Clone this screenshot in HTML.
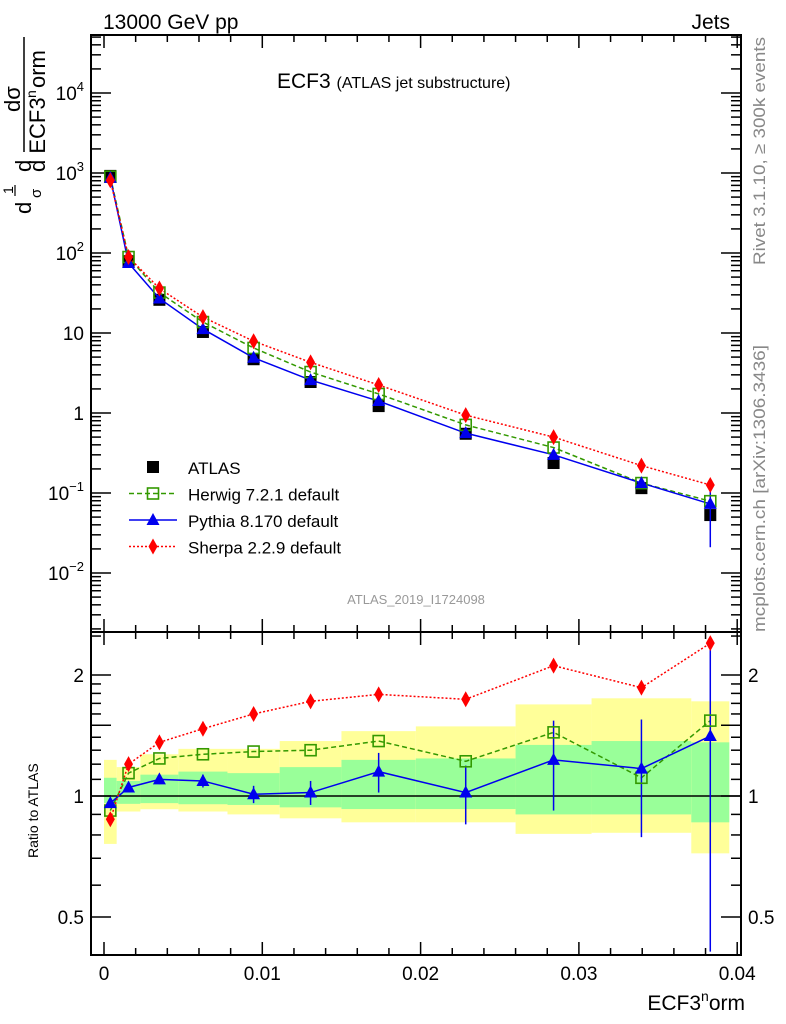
<!DOCTYPE html>
<html><head><meta charset="utf-8"><style>
body{margin:0;background:#fff;}
svg{display:block;font-family:"Liberation Sans",sans-serif;}
</style></head><body>
<svg id="c" width="786" height="1024" xmlns="http://www.w3.org/2000/svg">
<text x="103" y="29" font-size="21">13000 GeV pp</text>
<text x="730" y="29" font-size="21" text-anchor="end">Jets</text>
<text x="277" y="88" font-size="21">ECF3 <tspan font-size="16">(ATLAS jet substructure)</tspan></text>
<g font-size="22">
<text transform="translate(31,214) rotate(-90)">d</text>
<text transform="translate(13,194) rotate(-90)" font-size="14">1</text>
<line x1="15" y1="196" x2="15" y2="185" stroke="#000" stroke-width="1.2"/>
<text transform="translate(41,198) rotate(-90)" font-size="15">σ</text>
<text transform="translate(31,172) rotate(-90)">d</text>
<text transform="translate(20,112) rotate(-90)">dσ</text>
<line x1="24" y1="152" x2="24" y2="37" stroke="#000" stroke-width="1.5"/>
<text transform="translate(45,172) rotate(-90)">d ECF3</text>
<text transform="translate(36,98) rotate(-90)" font-size="14">n</text>
<text transform="translate(45,88) rotate(-90)">orm</text>
</g>
<text transform="translate(765,265) rotate(-90)" font-size="17" textLength="228" lengthAdjust="spacingAndGlyphs" fill="#888">Rivet 3.1.10, ≥ 300k events</text>
<text transform="translate(765,632) rotate(-90)" font-size="17" textLength="287" lengthAdjust="spacingAndGlyphs" fill="#888">mcplots.cern.ch [arXiv:1306.3436]</text>
<text x="416" y="604" font-size="13" fill="#999" text-anchor="middle">ATLAS_2019_I1724098</text>
<text transform="translate(38,858) rotate(-90)" font-size="14">Ratio to ATLAS</text>
<text x="745" y="1010" font-size="21" text-anchor="end">ECF3<tspan font-size="14" dy="-9">n</tspan><tspan dy="9">orm</tspan></text>
<g id="plot"></g>
</svg>
<script>
const edges=[0,0.0008,0.0023,0.0047,0.0078,0.0111,0.015,0.0197,0.026,0.0308,0.0371,0.0395];
const xs=[0.0004,0.00155,0.0035,0.00625,0.00945,0.01305,0.01735,0.02285,0.0284,0.03395,0.0383];
const atlas=[920,79,26,10.3,4.7,2.44,1.22,0.55,0.237,0.115,0.053];
const herwig=[900,89,32,13.7,6.5,3.25,1.73,0.71,0.37,0.133,0.079];
const pythia=[870,75,27,11.2,4.9,2.58,1.41,0.56,0.30,0.133,0.073];
const sherpa=[810,89,36,15.8,7.9,4.3,2.24,0.94,0.50,0.22,0.126];
const rHerwig=[0.92,1.14,1.24,1.27,1.29,1.30,1.37,1.22,1.44,1.11,1.54];
const rPythia=[0.96,1.05,1.10,1.09,1.01,1.02,1.15,1.02,1.23,1.17,1.41];
const rSherpa=[0.875,1.20,1.36,1.47,1.60,1.72,1.79,1.74,2.11,1.86,2.40];
const rPyErr=[0.02,0.02,0.03,0.04,0.05,0.07,0.13,0.17,0.31,0.38,1.0];
const yelHi=[1.23,1.18,1.27,1.31,1.31,1.37,1.45,1.49,1.69,1.75,1.72];
const yelLo=[0.76,0.915,0.927,0.915,0.90,0.88,0.86,0.86,0.805,0.81,0.72];
const grnHi=[1.11,1.09,1.13,1.15,1.14,1.18,1.23,1.24,1.34,1.37,1.36];
const grnLo=[0.96,0.956,0.96,0.954,0.95,0.937,0.928,0.928,0.90,0.90,0.86];
const xTicks=[0,0.01,0.02,0.03,0.04];
const xTickLabels=["0","0.01","0.02","0.03","0.04"];
const yDecades=[-2,-1,0,1,2,3,4];
const yLabels=["10<tspan font-size='13' dy='-9'>−2</tspan>","10<tspan font-size='13' dy='-9'>−1</tspan>","1","10","10<tspan font-size='13' dy='-9'>2</tspan>","10<tspan font-size='13' dy='-9'>3</tspan>","10<tspan font-size='13' dy='-9'>4</tspan>"];
const rTicks=[0.5,1,2];
const rTickLabels=["0.5","1","2"];

const L=91,R=741,T=35,M=632,B=955;
const X=v=>104+v*15830;
const Y=v=>413-80*Math.log10(v);
const RY=v=>796-121*Math.log2(v);
const NS="http://www.w3.org/2000/svg";
const g=document.getElementById('plot');
function el(tag,attrs,parent){const e=document.createElementNS(NS,tag);for(const k in attrs)e.setAttribute(k,attrs[k]);(parent||g).appendChild(e);return e;}

for(let i=0;i<xs.length;i++){
 const y=el('rect',{x:X(edges[i]),y:RY(yelHi[i]),width:X(edges[i+1])-X(edges[i]),height:RY(yelLo[i])-RY(yelHi[i]),fill:'#ffff99'});
 
 
 const gr=el('rect',{x:X(edges[i]),y:RY(grnHi[i]),width:X(edges[i+1])-X(edges[i]),height:RY(grnLo[i])-RY(grnHi[i]),fill:'#99ff99'});
 
 
}
const one=el('line',{x1:L,x2:R,y1:RY(1),y2:RY(1),stroke:'#000','stroke-width':1.5});



const f1=el('rect',{x:L,y:T,width:R-L,height:M-T,fill:'none',stroke:'#000','stroke-width':2});


const f2=el('rect',{x:L,y:M,width:R-L,height:B-M,fill:'none',stroke:'#000','stroke-width':2});



for(let v=0;v<=0.0405;v+=0.002){
 const major=Math.abs(v/0.01-Math.round(v/0.01))<1e-6;
 const len=major?13:7;
 for(const [top,bot] of [[T,M],[M,B]]){
  el('line',{x1:X(v),x2:X(v),y1:bot,y2:bot-len,stroke:'#000','stroke-width':1.5});
  el('line',{x1:X(v),x2:X(v),y1:top,y2:top+len,stroke:'#000','stroke-width':1.5});
 }
}
xTicks.forEach((v,i)=>{const t=el('text',{x:X(v),y:980,'font-size':19,'text-anchor':'middle'});t.textContent=xTickLabels[i];
 
 });

for(let d=-3;d<=4;d++){for(let m=1;m<10;m++){const y=Y(m*Math.pow(10,d));if(y<T||y>M)continue;const len=m==1?20:10;
 el('line',{x1:L,x2:L+len,y1:y,y2:y,stroke:'#000','stroke-width':1.5});
 el('line',{x1:R,x2:R-len,y1:y,y2:y,stroke:'#000','stroke-width':1.5});}}
yDecades.forEach((d,i)=>{const t=el('text',{x:84,y:Y(Math.pow(10,d))+7,'font-size':19,'text-anchor':'end'});t.innerHTML=yLabels[i];
 
 });
[0.4,0.5,0.6,0.7,0.8,0.9,1,1.1,1.2,1.3,1.4,1.5,1.6,1.7,1.8,1.9,2,2.5].forEach(v=>{const y=RY(v);if(y<M||y>B)return;const len=([0.5,1,1.5,2].includes(v))?20:10;
 el('line',{x1:L,x2:L+len,y1:y,y2:y,stroke:'#000','stroke-width':1.5});
 el('line',{x1:R,x2:R-len,y1:y,y2:y,stroke:'#000','stroke-width':1.5});});
rTicks.forEach((v,i)=>{for(const [x,a] of [[84,'end'],[748,'start']]){const t=el('text',{x:x,y:RY(v)+7,'font-size':19,'text-anchor':a});t.textContent=rTickLabels[i];
 
 }});

function marker(type,x,y,color,name){
 let m;
 if(type=='sq')m=el('rect',{x:x-6,y:y-6,width:12,height:12,fill:'#000'});
 else if(type=='osq')m=el('rect',{x:x-5.5,y:y-5.5,width:11,height:11,fill:'none',stroke:color,'stroke-width':1.6});
 else if(type=='tri')m=el('polygon',{points:`${x},${y-7} ${x-6.5},${y+5} ${x+6.5},${y+5}`,fill:color});
 else m=el('polygon',{points:`${x},${y-8} ${x-4.5},${y} ${x},${y+8} ${x+4.5},${y}`,fill:color});
 
 
}
function line(vals,fy,color,dash,name){
 const p=el('polyline',{points:xs.map((x,i)=>X(x)+','+fy(vals[i])).join(' '),fill:'none',stroke:color,'stroke-width':1.5,'stroke-dasharray':dash});
 
 
}
const clipR=v=>Math.max(0.405,Math.min(2.55,v));
xs.forEach((x,i)=>marker('sq',X(x),Y(atlas[i]),'#000','atlas-point'));
line(herwig,Y,'#339900','5,3','herwig-line');
line(pythia,Y,'#0000ee','','pythia-line');
line(sherpa,Y,'#ff0000','2,2','sherpa-line');
const eb=el('line',{x1:X(xs[10]),x2:X(xs[10]),y1:Y(0.021),y2:Y(0.13),stroke:'#0000ee','stroke-width':1.5});


xs.forEach((x,i)=>{marker('osq',X(x),Y(herwig[i]),'#339900','herwig-point');marker('tri',X(x),Y(pythia[i]),'#0000ee','pythia-point');marker('dia',X(x),Y(sherpa[i]),'#ff0000','sherpa-point');});
line(rHerwig,RY,'#339900','5,3','herwig-ratio-line');
line(rPythia,RY,'#0000ee','','pythia-ratio-line');
line(rSherpa,v=>RY(clipR(v)),'#ff0000','2,2','sherpa-ratio-line');
xs.forEach((x,i)=>{
 const lo=clipR(rPythia[i]-rPyErr[i]),hi=clipR(rPythia[i]+rPyErr[i]);
 const e=el('line',{x1:X(x),x2:X(x),y1:RY(lo),y2:RY(hi),stroke:'#0000ee','stroke-width':1.5});
 
 
 marker('osq',X(x),RY(rHerwig[i]),'#339900','herwig-ratio-point');
 marker('tri',X(x),RY(rPythia[i]),'#0000ee','pythia-ratio-point');
 marker('dia',X(x),RY(clipR(rSherpa[i])),'#ff0000','sherpa-ratio-point');
});
const leg=[['sq','#000','','ATLAS'],['osq','#339900','5,3','Herwig 7.2.1 default'],['tri','#0000ee','','Pythia 8.170 default'],['dia','#ff0000','2,2','Sherpa 2.2.9 default']];
leg.forEach((l,i)=>{const y=467+i*26.5;
 if(i>0){const ll=el('line',{x1:129,x2:177,y1:y,y2:y,stroke:l[1],'stroke-width':1.5,'stroke-dasharray':l[2]});
  
  }
 marker(l[0],153,y,l[1],'legend-marker');
 const t=el('text',{x:188,y:y+7,'font-size':17});t.textContent=l[3];
 
 
});
</script>
</body></html>
